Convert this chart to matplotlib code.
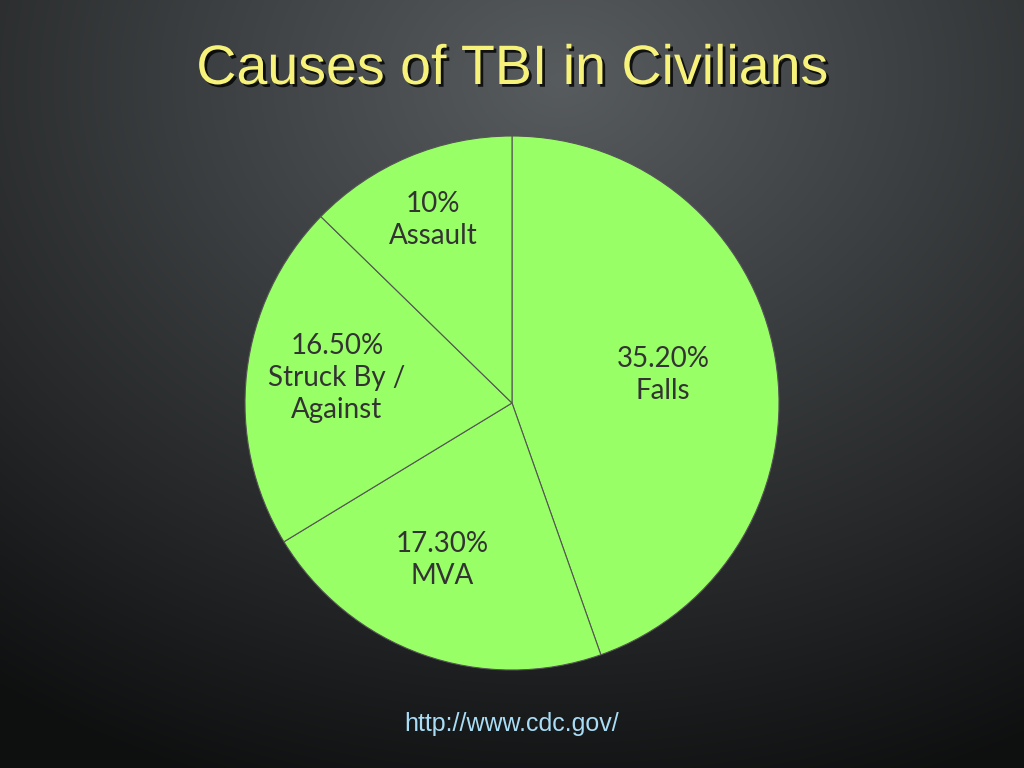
import numpy as np
import matplotlib.pyplot as plt
import matplotlib.patheffects as pe

labels = ["35.20%\nFalls", "17.30%\nMVA", "16.50%\nStruck By /\nAgainst", "10%\nAssault"]
sizes = [44.6, 21.7, 21.0, 12.7]  # angular shares
label_pos = [(663, 393), (442, 208), (337, 390), (433, 548)]

fig = plt.figure(figsize=(10.24, 7.68), dpi=100)
bg = fig.add_axes([0, 0, 1, 1])
yy, xx = np.mgrid[0:768, 0:1024]
d = np.sqrt(((xx - 560) / 900) ** 2 + ((yy - 80) / 700) ** 2)
v = np.clip(0.36 - 0.28 * d, 0.06, 0.36)
img = np.dstack([v * 0.95, v * 1.0, v * 1.03])
bg.imshow(np.clip(img, 0, 1), extent=[0, 1024, 0, 768], aspect='auto', origin='upper')
bg.set_xlim(0, 1024); bg.set_ylim(0, 768); bg.axis('off')

ax = fig.add_axes([0, 0, 1, 1])
ax.set_xlim(0, 1024); ax.set_ylim(0, 768); ax.set_aspect('equal'); ax.axis('off')
ax.pie(sizes, startangle=90, counterclock=False, center=(512, 365), radius=267,
       colors=['#99ff66'] * 4, wedgeprops=dict(edgecolor='#555555', linewidth=0.8))
ax.set_xlim(0, 1024); ax.set_ylim(0, 768)
for t, (x, y) in zip(labels, label_pos):
    ax.text(x, y, t, ha='center', va='center',
            fontsize=20, color='#333333', family='Lato', linespacing=1.3)

ax.text(512, 698, "Causes of TBI in Civilians", ha='center', va='center', fontsize=40,
        color='#f7f27a', family='Liberation Sans',
        path_effects=[pe.withSimplePatchShadow(offset=(2, -2), shadow_rgbFace='black', alpha=0.8)])
ax.text(512, 44, "http://www.cdc.gov/", ha='center', va='center', fontsize=18,
        color='#a9dcf5', family='Liberation Sans')
fig.savefig("out.png", dpi=100)
